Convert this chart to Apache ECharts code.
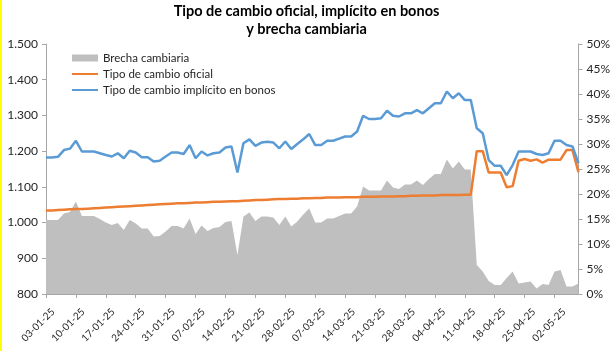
<!DOCTYPE html>
<html>
<head>
<meta charset="utf-8">
<script src="https://cdn.jsdelivr.net/npm/echarts@6/dist/echarts.min.js"></script>
<style>
  html, body { margin: 0; padding: 0; background: #fff; }
  #chart { width: 613px; height: 351px; }
</style>
</head>
<body>
<div id="chart"></div>
<script>
// fechas (dias habiles)
const fechas = [
  '03-01-25','06-01-25','07-01-25','08-01-25','09-01-25','10-01-25','13-01-25','14-01-25','15-01-25','16-01-25',
  '17-01-25','20-01-25','21-01-25','22-01-25','23-01-25','24-01-25','27-01-25','28-01-25','29-01-25','30-01-25',
  '31-01-25','03-02-25','04-02-25','05-02-25','06-02-25','07-02-25','10-02-25','11-02-25','12-02-25','13-02-25',
  '14-02-25','17-02-25','18-02-25','19-02-25','20-02-25','21-02-25','24-02-25','25-02-25','26-02-25','27-02-25',
  '28-02-25','03-03-25','04-03-25','05-03-25','06-03-25','07-03-25','10-03-25','11-03-25','12-03-25','13-03-25',
  '14-03-25','17-03-25','18-03-25','19-03-25','20-03-25','21-03-25','24-03-25','25-03-25','26-03-25','27-03-25',
  '28-03-25','31-03-25','01-04-25','02-04-25','03-04-25','04-04-25','07-04-25','08-04-25','09-04-25','10-04-25',
  '11-04-25','14-04-25','15-04-25','16-04-25','17-04-25','18-04-25','21-04-25','22-04-25','23-04-25','24-04-25',
  '25-04-25','28-04-25','29-04-25','30-04-25','01-05-25','02-05-25','05-05-25','06-05-25','07-05-25','08-05-25'
];

// tipo de cambio oficial
const tcOficial = [
  1034,1034,1035,1036,1037,1038,1038,1039,1040,1041,
  1042,1043,1044,1045,1046,1047,1048,1049,1050,1051,
  1052,1053,1054,1054,1055,1056,1056,1057,1058,1058,
  1059,1060,1060,1061,1062,1063,1063,1064,1065,1066,
  1066,1067,1067,1068,1068,1069,1069,1070,1070,1070,
  1071,1071,1071,1072,1072,1072,1073,1073,1073,1074,
  1074,1075,1075,1076,1076,1076,1077,1077,1077,1077,
  1078,1078,1200,1200,1140,1140,1140,1099,1102,1173,
  1178,1173,1177,1168,1176,1176,1176,1203,1203,1141
];

// tipo de cambio implicito en bonos
const tcBonos = [
  1182,1182,1184,1203,1207,1229,1199,1199,1199,1194,
  1189,1185,1194,1180,1201,1196,1183,1183,1171,1173,
  1185,1196,1196,1192,1217,1180,1199,1188,1194,1196,
  1210,1213,1140,1222,1233,1215,1224,1226,1224,1208,
  1227,1206,1220,1233,1248,1217,1217,1229,1229,1235,
  1241,1241,1255,1299,1290,1290,1292,1313,1299,1297,
  1306,1306,1315,1306,1320,1334,1334,1367,1348,1362,
  1343,1343,1264,1250,1175,1159,1159,1133,1161,1199,
  1199,1199,1192,1189,1194,1229,1229,1217,1213,1166
];

// brecha cambiaria (%)
const brecha = [
  14.8,14.8,14.8,16.1,16.4,18.5,15.6,15.6,15.6,15.0,
  14.3,13.8,14.2,12.8,14.8,14.1,13.1,13.1,11.5,11.6,
  12.5,13.6,13.6,13.1,15.1,12.0,13.7,12.6,13.2,13.4,
  14.4,14.6,7.8,15.5,16.3,14.6,15.5,15.5,15.3,13.8,
  15.5,13.5,14.5,15.9,17.1,14.3,14.3,15.1,15.1,15.6,
  16.1,16.1,17.5,21.5,20.7,20.7,20.7,22.7,21.3,21.0,
  21.9,21.9,22.7,21.8,23.0,24.0,24.0,26.9,25.1,26.5,
  24.9,24.9,5.8,4.5,2.6,1.8,1.8,3.2,4.5,2.1,
  2.3,2.5,1.1,2.0,1.8,4.5,4.8,1.5,1.5,2.1
];

const font = 'Lato, "Liberation Sans", sans-serif';
const txt = '#262626';
const axisCol = '#A6A6A6';

const fmtMiles = v => String(v).replace(/\B(?=(\d{3})+(?!\d))/g, '.');

const chart = echarts.init(document.getElementById('chart'));
chart.setOption({
  animation: false,
  textStyle: { fontFamily: font },
  title: {
    text: 'Tipo de cambio oficial, implícito en bonos\ny brecha cambiaria',
    left: 'center',
    top: 2,
    padding: 0,
    textStyle: { fontFamily: font, fontSize: 14.5, fontWeight: 'bold', color: '#000', lineHeight: 18 }
  },
  graphic: [
    { type: 'rect', shape: { x: 0, y: 0, width: 2, height: 351 }, style: { fill: '#FFFF00' }, silent: true }
  ],
  legend: {
    orient: 'vertical',
    left: 66,
    top: 47,
    itemWidth: 26,
    itemHeight: 7,
    itemGap: 4,
    textStyle: { fontFamily: font, fontSize: 11.5, color: txt },
    data: [
      { name: 'Brecha cambiaria', icon: 'rect' },
      { name: 'Tipo de cambio oficial', itemStyle: { opacity: 0 } },
      { name: 'Tipo de cambio implícito en bonos', itemStyle: { opacity: 0 } }
    ]
  },
  grid: [
    { left: 46, right: 32, top: 44, bottom: 57 },
    // rejilla auxiliar, solo para ubicar las etiquetas de fecha como en el original
    { left: 53, right: 25, top: 44, bottom: 57 }
  ],
  xAxis: [
    {
      type: 'category',
      data: fechas,
      boundaryGap: false,
      axisLine: { lineStyle: { color: axisCol } },
      axisTick: { interval: 4, length: 4, lineStyle: { color: axisCol } },
      axisLabel: { show: false },
      splitLine: { show: false }
    },
    {
      type: 'category',
      gridIndex: 1,
      data: fechas,
      boundaryGap: false,
      axisLine: { show: false },
      axisTick: { show: false },
      axisLabel: { interval: 4, rotate: 45, fontSize: 10, color: txt, margin: 16, fontFamily: font },
      splitLine: { show: false }
    }
  ],
  yAxis: [
    {
      type: 'value', min: 800, max: 1500, interval: 100,
      axisLine: { show: true, lineStyle: { color: axisCol } },
      axisTick: { show: true, length: 4, lineStyle: { color: axisCol } },
      axisLabel: { formatter: fmtMiles, fontSize: 12, color: txt, margin: 8, fontFamily: font },
      splitLine: { show: false }
    },
    {
      type: 'value', min: 0, max: 50, interval: 5,
      axisLine: { show: true, lineStyle: { color: axisCol } },
      axisTick: { show: true, length: 4, lineStyle: { color: axisCol } },
      axisLabel: { formatter: '{value}%', fontSize: 12, color: txt, margin: 8, fontFamily: font },
      splitLine: { show: false }
    },
    {
      type: 'value', gridIndex: 1, show: false
    }
  ],
  series: [
    {
      name: 'Brecha cambiaria',
      type: 'line',
      yAxisIndex: 1,
      data: brecha,
      symbol: 'none',
      lineStyle: { width: 0, color: '#BFBFBF' },
      itemStyle: { color: '#BFBFBF' },
      areaStyle: { color: '#BFBFBF', opacity: 1 },
      z: 1
    },
    {
      name: 'Tipo de cambio oficial',
      type: 'line',
      data: tcOficial,
      symbol: 'none',
      lineStyle: { width: 2.5, color: '#ED7D31' },
      itemStyle: { color: '#ED7D31' },
      z: 3
    },
    {
      name: 'Tipo de cambio implícito en bonos',
      type: 'line',
      data: tcBonos,
      symbol: 'none',
      lineStyle: { width: 2.5, color: '#5B9BD5' },
      itemStyle: { color: '#5B9BD5' },
      z: 4
    }
  ]
});
</script>
</body>
</html>
